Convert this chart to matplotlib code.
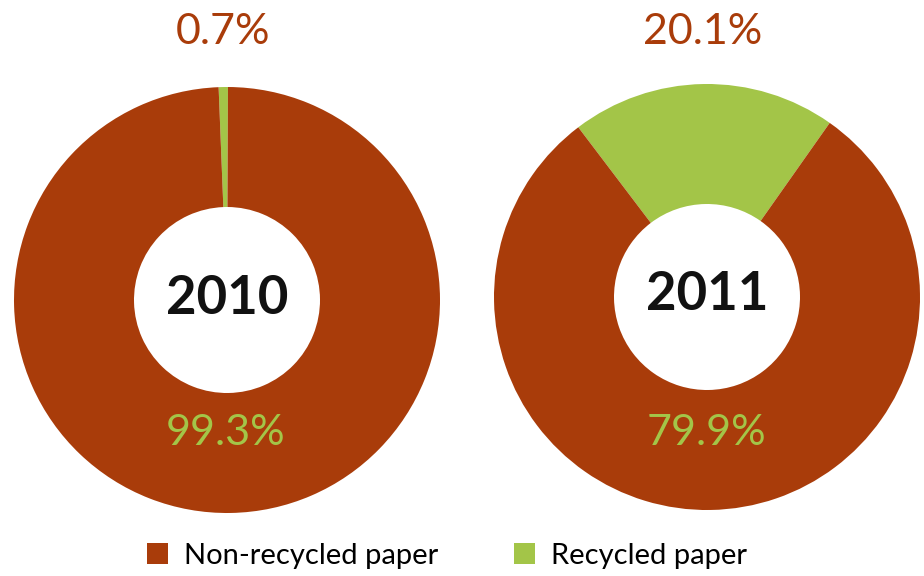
import matplotlib
matplotlib.use("Agg")
import matplotlib.pyplot as plt
from matplotlib.patches import Patch

plt.rcParams['font.family'] = ['Lato', 'DejaVu Sans']

years = ["2010", "2011"]
recycled = [0.7, 20.1]
non_recycled = [99.3, 79.9]
series_names = ["Non-recycled paper", "Recycled paper"]

brown = "#A93C0A"
green = "#A3C548"

fig = plt.figure(figsize=(9.24, 5.76), dpi=100)
ax = fig.add_axes([0, 0, 1, 1])
ax.set_xlim(0, 924)
ax.set_ylim(0, 576)
ax.set_aspect('equal')
ax.axis('off')

centers = [(227, 276), (707, 279)]
R = 213
W = 120

for i, (yr, rec, non) in enumerate(zip(years, recycled, non_recycled)):
    cx, cy = centers[i]
    start = 91 - rec * 360 / 100 / 2
    ax.pie([rec, non], colors=[green, brown], startangle=start, counterclock=True,
           center=(cx, cy), radius=R, wedgeprops=dict(width=W, linewidth=0),
           frame=True)
    ax.text(cx, cy + 2, yr, ha='center', va='center', fontsize=38,
            fontweight='bold', color='#111111')
    ax.text(cx - 4, 576 - 32, f"{rec}%", ha='center', va='center', fontsize=31, color=brown)
    ax.text(cx - 1, 576 - 433, f"{non}%", ha='center', va='center', fontsize=31, color=green)

ax.set_xlim(0, 924)
ax.set_ylim(0, 576)
ax.axis('off')

handles = [Patch(facecolor=brown, edgecolor='none'), Patch(facecolor=green, edgecolor='none')]
fig.legend(handles, series_names, loc='center', bbox_to_anchor=(447 / 924, 1 - 556 / 576),
           ncol=2, frameon=False, fontsize=21, handlelength=0.72, handleheight=0.72,
           handletextpad=0.55, columnspacing=2.6, borderpad=0, borderaxespad=0)

fig.savefig("out.png", dpi=100)
